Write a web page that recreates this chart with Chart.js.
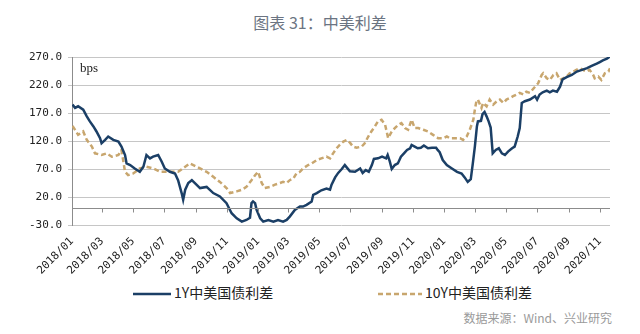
<!DOCTYPE html>
<html>
<head>
<meta charset="utf-8">
<script src="https://cdn.jsdelivr.net/npm/chart.js@4.4.0/dist/chart.umd.min.js"></script>
<style>
  body { margin: 0; background: #fff; }
  #wrap { position: relative; width: 640px; height: 334px; overflow: hidden; }
  #title { position: absolute; top: 10px; left: 0; width: 640px; text-align: center;
           font: 16px "Noto Sans CJK SC"; color: #6b7482; }
  #chart { position: absolute; left: 0; top: 0; }
  .key { position: absolute; top: 282px; font: 14px "Noto Sans CJK SC"; color: #222; white-space: nowrap; }
  .key svg { vertical-align: middle; margin-right: 3px; }
  #source { position: absolute; top: 309px; right: 28px; font: 12px "Noto Sans CJK SC"; color: #9a9a9a; }
</style>
</head>
<body>
<div id="wrap">
  <div id="title">图表 31：中美利差</div>
  <canvas id="chart" width="640" height="280"></canvas>
  <div class="key" style="left:133px"><svg width="38" height="4"><line x1="0" y1="2" x2="38" y2="2" stroke="#1b3f66" stroke-width="2.5"/></svg>1Y中美国债利差</div>
  <div class="key" style="left:378px"><svg width="44" height="4"><line x1="0" y1="2" x2="44" y2="2" stroke="#c8a66e" stroke-width="2.5" stroke-dasharray="5,3"/></svg>10Y中美国债利差</div>
  <div id="source">数据来源：Wind、兴业研究</div>
</div>
<script>
const tickLabels = ['2018/01', '2018/03', '2018/05', '2018/07', '2018/09', '2018/11',
    '2019/01', '2019/03', '2019/05', '2019/07', '2019/09', '2019/11',
    '2020/01', '2020/03', '2020/05', '2020/07', '2020/09', '2020/11'];

// 1Y spread, bps
const spread1yDates = [
    '2018-01-02', '2018-01-07', '2018-01-13', '2018-01-23', '2018-01-30', '2018-02-05', '2018-02-12', '2018-02-18',
    '2018-02-25', '2018-02-28', '2018-03-07', '2018-03-13', '2018-03-23', '2018-04-02', '2018-04-08', '2018-04-15',
    '2018-04-18', '2018-04-25', '2018-05-04', '2018-05-14', '2018-05-21', '2018-05-27', '2018-06-03', '2018-06-09',
    '2018-06-19', '2018-06-26', '2018-07-02', '2018-07-12', '2018-07-22', '2018-07-28', '2018-08-04', '2018-08-07',
    '2018-08-11', '2018-08-17', '2018-08-24', '2018-09-02', '2018-09-09', '2018-09-22', '2018-10-05', '2018-10-18',
    '2018-10-31', '2018-11-10', '2018-11-20', '2018-11-30', '2018-12-09', '2018-12-16', '2018-12-19', '2018-12-22',
    '2018-12-26', '2018-12-29', '2019-01-05', '2019-01-11', '2019-01-21', '2019-01-31', '2019-02-09', '2019-02-19',
    '2019-02-26', '2019-03-04', '2019-03-14', '2019-03-24', '2019-03-30', '2019-04-06', '2019-04-16', '2019-04-19',
    '2019-04-26', '2019-05-05', '2019-05-15', '2019-05-22', '2019-05-25', '2019-06-01', '2019-06-07', '2019-06-14',
    '2019-06-20', '2019-06-30', '2019-07-10', '2019-07-20', '2019-07-25', '2019-07-31', '2019-08-06', '2019-08-12',
    '2019-08-16', '2019-08-24', '2019-09-01', '2019-09-09', '2019-09-12', '2019-09-16', '2019-09-20', '2019-09-26',
    '2019-10-02', '2019-10-08', '2019-10-14', '2019-10-20', '2019-10-26', '2019-10-29', '2019-11-04', '2019-11-10',
    '2019-11-16', '2019-11-22', '2019-11-30', '2019-12-08', '2019-12-16', '2019-12-19', '2019-12-23', '2019-12-29',
    '2020-01-06', '2020-01-16', '2020-01-26', '2020-02-04', '2020-02-10', '2020-02-16', '2020-02-22', '2020-02-26',
    '2020-03-01', '2020-03-05', '2020-03-07', '2020-03-13', '2020-03-16', '2020-03-20', '2020-03-24', '2020-03-28',
    '2020-04-01', '2020-04-05', '2020-04-11', '2020-04-17', '2020-04-23', '2020-04-29', '2020-05-05', '2020-05-13',
    '2020-05-18', '2020-05-24', '2020-05-28', '2020-06-01', '2020-06-07', '2020-06-17', '2020-06-27', '2020-07-01',
    '2020-07-06', '2020-07-12', '2020-07-20', '2020-07-26', '2020-08-01', '2020-08-09', '2020-08-15', '2020-08-20',
    '2020-08-28', '2020-09-07', '2020-09-17', '2020-09-27', '2020-10-07', '2020-10-16', '2020-10-26', '2020-11-01',
    '2020-11-07', '2020-11-15', '2020-11-21'];
const spread1y = [
    185, 179, 182, 176, 164, 155, 146, 137,
    125, 116, 122, 128, 122, 119, 110, 95,
    80, 77, 71, 65, 74, 95, 89, 92,
    95, 83, 71, 65, 62, 50, 27, 15,
    33, 45, 50, 42, 36, 38, 27, 21,
    9, -9, -18, -24, -21, -17, 9, 12,
    9, -3, -18, -24, -21, -24, -21, -24,
    -21, -15, -3, 3, 3, 6, 12, 24,
    27, 32, 35, 33, 42, 55, 63, 70,
    77, 66, 65, 71, 63, 68, 65, 77,
    88, 89, 92, 89, 95, 84, 70, 77,
    80, 92, 98, 104, 107, 113, 110, 107,
    108, 112, 107, 108, 108, 104, 100, 86,
    77, 71, 65, 62, 55, 47, 52, 80,
    110, 146, 155, 156, 168, 172, 164, 155,
    144, 98, 104, 107, 98, 95, 101, 107,
    110, 128, 143, 188, 191, 194, 200, 194,
    203, 207, 210, 207, 210, 208, 217, 230,
    234, 238, 244, 247, 250, 254, 258, 261,
    264, 267, 271];

// 10Y spread, bps
const spread10yDates = [
    '2018-01-02', '2018-01-07', '2018-01-13', '2018-01-23', '2018-01-30', '2018-02-09', '2018-02-15', '2018-02-28',
    '2018-03-10', '2018-03-20', '2018-04-02', '2018-04-08', '2018-04-15', '2018-04-21', '2018-05-01', '2018-05-14',
    '2018-05-27', '2018-06-09', '2018-06-23', '2018-07-12', '2018-07-28', '2018-08-11', '2018-08-20', '2018-08-27',
    '2018-09-09', '2018-09-22', '2018-10-05', '2018-10-18', '2018-10-31', '2018-11-07', '2018-11-20', '2018-11-30',
    '2018-12-09', '2018-12-19', '2018-12-26', '2019-01-01', '2019-01-08', '2019-01-14', '2019-01-24', '2019-02-03',
    '2019-02-13', '2019-02-19', '2019-02-26', '2019-03-04', '2019-03-11', '2019-03-17', '2019-03-24', '2019-03-30',
    '2019-04-09', '2019-04-16', '2019-04-26', '2019-05-05', '2019-05-15', '2019-05-22', '2019-05-28', '2019-06-04',
    '2019-06-10', '2019-06-17', '2019-06-24', '2019-06-30', '2019-07-06', '2019-07-13', '2019-07-23', '2019-07-29',
    '2019-08-05', '2019-08-11', '2019-08-18', '2019-08-24', '2019-08-31', '2019-09-07', '2019-09-13', '2019-09-20',
    '2019-09-26', '2019-10-03', '2019-10-09', '2019-10-16', '2019-10-22', '2019-10-29', '2019-11-04', '2019-11-11',
    '2019-11-21', '2019-11-30', '2019-12-10', '2019-12-20', '2019-12-30', '2020-01-06', '2020-01-12', '2020-01-22',
    '2020-02-01', '2020-02-07', '2020-02-14', '2020-02-20', '2020-02-27', '2020-03-01', '2020-03-04', '2020-03-07',
    '2020-03-11', '2020-03-14', '2020-03-17', '2020-03-24', '2020-03-30', '2020-04-06', '2020-04-13', '2020-04-19',
    '2020-04-26', '2020-05-02', '2020-05-09', '2020-05-15', '2020-05-22', '2020-05-28', '2020-06-04', '2020-06-10',
    '2020-06-17', '2020-06-27', '2020-07-03', '2020-07-10', '2020-07-13', '2020-07-20', '2020-07-26', '2020-08-02',
    '2020-08-08', '2020-08-15', '2020-08-21', '2020-08-28', '2020-09-03', '2020-09-10', '2020-09-16', '2020-09-23',
    '2020-09-29', '2020-10-06', '2020-10-12', '2020-10-19', '2020-10-22', '2020-10-29', '2020-11-04', '2020-11-11',
    '2020-11-18', '2020-11-21'];
const spread10y = [
    147, 140, 131, 137, 122, 110, 98, 95,
    98, 92, 95, 104, 65, 59, 62, 71,
    74, 71, 65, 65, 65, 74, 80, 77,
    71, 65, 56, 47, 36, 27, 30, 33,
    38, 50, 59, 65, 45, 36, 38, 42,
    45, 47, 45, 50, 53, 62, 65, 71,
    77, 80, 86, 89, 92, 89, 98, 107,
    113, 119, 122, 117, 110, 108, 110, 116,
    128, 137, 146, 155, 158, 149, 125, 137,
    143, 149, 152, 143, 140, 158, 143, 143,
    140, 137, 131, 125, 125, 128, 125, 125,
    125, 122, 128, 140, 158, 176, 191, 194,
    185, 179, 188, 182, 194, 185, 191, 194,
    188, 194, 197, 200, 203, 206, 203, 208,
    206, 217, 223, 238, 241, 232, 229, 238,
    241, 229, 232, 235, 241, 244, 247, 250,
    247, 244, 247, 238, 232, 235, 229, 241,
    244, 250];

// day offset from 2018-01-01 for 'YYYY-MM-DD' or 'YYYY/MM'
const origin = Date.UTC(2018, 0, 1);
function dayOf(str) {
    const p = str.split(/[-\/]/).map(Number);
    return (Date.UTC(p[0], p[1] - 1, p[2] || 1) - origin) / 864e5;
}

const monoFont = { family: 'DejaVu Sans Mono', size: 11 };

// zero line with x tick marks, plus the unit label
const zeroAxis = {
    id: 'zeroAxis',
    afterDatasetsDraw(chart) {
        const { ctx, chartArea, scales: { x, y } } = chart;
        const y0 = Math.round(y.getPixelForValue(0)) + 0.5;
        ctx.save();
        ctx.strokeStyle = '#8c8c8c';
        ctx.lineWidth = 1;
        ctx.beginPath();
        ctx.moveTo(chartArea.left, y0);
        ctx.lineTo(chartArea.right, y0);
        x.ticks.forEach((t, i) => {
            if (i === 0) return;
            const px = Math.round(x.getPixelForValue(t.value)) + 0.5;
            ctx.moveTo(px, y0);
            ctx.lineTo(px, y0 + 4);
        });
        ctx.stroke();
        ctx.fillStyle = '#222';
        ctx.font = '13px "Liberation Serif"';
        ctx.textBaseline = 'middle';
        ctx.fillText('bps', chartArea.left + 8, chartArea.top + 12);
        ctx.restore();
    }
};

new Chart(document.getElementById('chart'), {
    type: 'line',
    data: {
        datasets: [
            {
                label: '1Y中美国债利差',
                data: spread1yDates.map((d, i) => ({ x: dayOf(d), y: spread1y[i] })),
                borderColor: '#1b3f66',
                borderWidth: 2.5,
                pointRadius: 0,
                tension: 0,
            },
            {
                label: '10Y中美国债利差',
                data: spread10yDates.map((d, i) => ({ x: dayOf(d), y: spread10y[i] })),
                borderColor: '#c8a66e',
                borderWidth: 2.5,
                borderDash: [5, 3],
                pointRadius: 0,
                tension: 0,
            },
        ],
    },
    options: {
        responsive: false,
        animation: false,
        layout: { padding: { top: 57, right: 30, left: 0, bottom: 0 } },
        plugins: { legend: { display: false }, tooltip: { enabled: false } },
        scales: {
            x: {
                type: 'linear',
                min: 0,
                max: dayOf('2020-11-21'),
                grid: { display: false },
                border: { display: false },
                afterBuildTicks: (scale) => {
                    scale.ticks = tickLabels.map(l => ({ value: dayOf(l) }));
                },
                afterFit: (scale) => { scale.height = 55; },
                ticks: {
                    autoSkip: false,
                    minRotation: 45,
                    maxRotation: 45,
                    padding: 2,
                    color: '#222',
                    font: monoFont,
                    callback: (v, i) => tickLabels[i],
                },
            },
            y: {
                min: -30,
                max: 270,
                afterFit: (scale) => { scale.width = 72; },
                grid: { color: '#c6c6c6', tickLength: 4 },
                border: { color: '#8c8c8c' },
                ticks: {
                    stepSize: 50,
                    padding: 6,
                    color: '#222',
                    font: monoFont,
                    callback: (v) => v.toFixed(1),
                },
            },
        },
    },
    plugins: [zeroAxis],
});
</script>
</body>
</html>
